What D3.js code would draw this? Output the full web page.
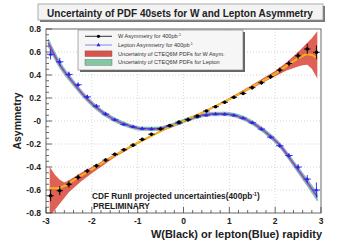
<!DOCTYPE html>
<html>
<head>
<meta charset="utf-8">
<script src="https://cdn.jsdelivr.net/npm/d3@7"></script>
<style>
  body { margin: 0; background: #fff; }
  text { font-family: "Liberation Sans", Arial, sans-serif; }
</style>
</head>
<body>
<div id="chart"></div>
<script>
// pseudo-data bins (centres)
var binX = [-2.9, -2.7, -2.5, -2.3, -2.1, -1.9, -1.7, -1.5, -1.3, -1.1, -0.9, -0.7, -0.5, -0.3, -0.1,
             0.1, 0.3, 0.5, 0.7, 0.9, 1.1, 1.3, 1.5, 1.7, 1.9, 2.1, 2.3, 2.5, 2.7, 2.9]

var wAsym = [-0.65, -0.606, -0.55, -0.49, -0.435, -0.39, -0.34, -0.29, -0.25, -0.21, -0.16, -0.115, -0.07, -0.04, -0.01,
              0.01, 0.043, 0.087, 0.124, 0.163, 0.206, 0.24, 0.29, 0.333, 0.385, 0.443, 0.50, 0.567, 0.626, 0.597]
var wErr = [0.05, 0.04, 0.03, 0.025, 0.02, 0.018, 0.016, 0.014, 0.013, 0.012, 0.011, 0.01, 0.01, 0.01, 0.01,
            0.01, 0.01, 0.01, 0.011, 0.012, 0.013, 0.014, 0.016, 0.018, 0.02, 0.022, 0.025, 0.03, 0.045, 0.06]

var lepAsym = [0.58, 0.515, 0.405, 0.315, 0.21, 0.13, 0.06, 0.01, -0.03, -0.05, -0.065, -0.07, -0.065, -0.045, -0.02,
               0.015, 0.035, 0.05, 0.06, 0.058, 0.05, 0.025, -0.015, -0.07, -0.14, -0.215, -0.30, -0.40, -0.505, -0.60]
var lepErr = [0.045, 0.035, 0.025, 0.02, 0.018, 0.016, 0.014, 0.012, 0.011, 0.01, 0.01, 0.01, 0.01, 0.01, 0.01,
              0.01, 0.01, 0.01, 0.01, 0.01, 0.01, 0.011, 0.012, 0.014, 0.016, 0.018, 0.02, 0.025, 0.035, 0.065]

// CTEQ6M theory: W asymmetry central value and PDF envelope
var wCurveX  = [-2.92, -2.8, -2.7, -2.6, -2.5, -2.25, -2, -1.5, -1, -0.5, 0, 0.5, 1, 1.5, 2, 2.25, 2.5, 2.6, 2.7, 2.8, 2.92]
var wCentral = [-0.585, -0.585, -0.58, -0.565, -0.54, -0.48, -0.42, -0.30, -0.19, -0.09, 0, 0.09, 0.19, 0.30, 0.41, 0.48, 0.545, 0.565, 0.58, 0.575, 0.54]
var wUpper   = [-0.40, -0.47, -0.51, -0.535, -0.515, -0.455, -0.40, -0.29, -0.18, -0.085, 0.005, 0.095, 0.20, 0.315, 0.435, 0.51, 0.60, 0.64, 0.68, 0.72, 0.78]
var wLower   = [-0.83, -0.77, -0.72, -0.67, -0.62, -0.53, -0.455, -0.315, -0.20, -0.095, -0.005, 0.085, 0.18, 0.285, 0.39, 0.44, 0.475, 0.485, 0.49, 0.455, 0.37]

// lepton asymmetry central value and PDF half-width
var lepCurveX  = [-2.95, -2.7, -2.4, -2.1, -1.8, -1.5, -1.2, -0.9, -0.6, -0.3, 0, 0.3, 0.6, 0.9, 1.2, 1.5, 1.8, 2.1, 2.4, 2.7, 2.92]
var lepCentral = [0.68, 0.49, 0.33, 0.19, 0.085, 0.01, -0.04, -0.068, -0.068, -0.045, 0, 0.04, 0.06, 0.062, 0.04, -0.015, -0.10, -0.21, -0.37, -0.535, -0.66]
var lepHalf    = [0.035, 0.03, 0.025, 0.022, 0.02, 0.018, 0.016, 0.015, 0.015, 0.015, 0.015, 0.015, 0.015, 0.015, 0.016, 0.018, 0.02, 0.022, 0.025, 0.03, 0.035]

var yTicks = [-0.8, -0.6, -0.4, -0.2, 0, 0.2, 0.4, 0.6, 0.8]
var yTickLabels = ['-0.8', '-0.6', '-0.4', '-0.2', '-0', '0.2', '0.4', '0.6', '0.8']
var xTicks = [-3, -2, -1, 0, 1, 2, 3]

var legendItems = [
  {label: 'W Asymmetry for 400pb', sup: '-1', kind: 'w'},
  {label: 'Lepton Asymmetry for 400pb', sup: '-1', kind: 'lep'},
  {label: 'Uncertainty of CTEQ6M PDFs for W Asym.', kind: 'wband'},
  {label: 'Uncertainty of CTEQ6M PDFs for Lepton', kind: 'lepband'}
]

var W = 354, H = 243
var red = '#dc5448', green = '#82c8a2', orange = '#f6b21a', purple = '#a638c8', blue = '#2626e6'

var svg = d3.select('#chart').append('svg').attr('width', W).attr('height', H)

var x = d3.scaleLinear().domain([-3, 3]).range([46, 321])
var y = d3.scaleLinear().domain([-0.8, 0.8]).range([213, 29])

// title box
svg.append('rect').attr('x', 40).attr('y', 6).attr('width', 285).attr('height', 16).attr('fill', '#777')
svg.append('rect').attr('x', 38).attr('y', 4).attr('width', 285).attr('height', 16)
  .attr('fill', '#f3f3f3').attr('stroke', '#999').attr('stroke-width', 0.8)
svg.append('text').attr('x', 180).attr('y', 16.5).attr('text-anchor', 'middle')
  .attr('font-size', 10).attr('font-weight', 'bold').attr('fill', '#222')
  .text('Uncertainty of PDF 40sets for W and Lepton Asymmetry')

// grid
var g = svg.append('g')
g.selectAll('.gx').data(xTicks.slice(1, -1)).join('line')
  .attr('x1', d => x(d)).attr('x2', d => x(d)).attr('y1', y(0.8)).attr('y2', y(-0.8))
  .attr('stroke', '#bbb').attr('stroke-width', 0.6).attr('stroke-dasharray', '1,2')
g.selectAll('.gy').data(yTicks.slice(1, -1)).join('line')
  .attr('y1', d => y(d)).attr('y2', d => y(d)).attr('x1', x(-3)).attr('x2', x(3))
  .attr('stroke', '#bbb').attr('stroke-width', 0.6).attr('stroke-dasharray', '1,2')

svg.append('clipPath').attr('id', 'plotclip').append('rect')
  .attr('x', x(-3)).attr('y', y(0.8)).attr('width', x(3) - x(-3)).attr('height', y(-0.8) - y(0.8))

var plot = svg.append('g').attr('clip-path', 'url(#plotclip)')

// W band + central
var wCurve = wCurveX.map((d, i) => ({x: d, c: wCentral[i], hi: wUpper[i], lo: wLower[i]}))
plot.append('path').datum(wCurve)
  .attr('d', d3.area().x(d => x(d.x)).y0(d => y(d.lo)).y1(d => y(d.hi)))
  .attr('fill', red).attr('opacity', 0.92)

// lepton band + central
var lepCurve = lepCurveX.map((d, i) => ({x: d, c: lepCentral[i], h: lepHalf[i]}))
plot.append('path').datum(lepCurve)
  .attr('d', d3.area().x(d => x(d.x)).y0(d => y(d.c - d.h)).y1(d => y(d.c + d.h)).curve(d3.curveMonotoneX))
  .attr('fill', green).attr('stroke', '#5fb0a8').attr('stroke-width', 0.6)
plot.append('path').datum(lepCurve)
  .attr('d', d3.line().x(d => x(d.x)).y(d => y(d.c + d.h * 0.4)).curve(d3.curveMonotoneX))
  .attr('fill', 'none').attr('stroke', '#55c0d8').attr('stroke-width', 0.8)
plot.append('path').datum(lepCurve)
  .attr('d', d3.line().x(d => x(d.x)).y(d => y(d.c)).curve(d3.curveMonotoneX))
  .attr('fill', 'none').attr('stroke', purple).attr('stroke-width', 1.6)

plot.append('path').datum(wCurve)
  .attr('d', d3.line().x(d => x(d.x)).y(d => y(d.c)).curve(d3.curveMonotoneX))
  .attr('fill', 'none').attr('stroke', orange).attr('stroke-width', 2)

// pseudo-data points
var wPts = binX.map((d, i) => ({x: d, v: wAsym[i], e: wErr[i]}))
var lepPts = binX.map((d, i) => ({x: d, v: lepAsym[i], e: lepErr[i]}))

function errorBars(sel, pts, col, hw) {
  var p = sel.append('g')
  p.selectAll('.h').data(pts).join('line')
    .attr('x1', d => x(d.x - hw)).attr('x2', d => x(d.x + hw)).attr('y1', d => y(d.v)).attr('y2', d => y(d.v))
    .attr('stroke', col).attr('stroke-width', 0.9)
  p.selectAll('.v').data(pts).join('line')
    .attr('x1', d => x(d.x)).attr('x2', d => x(d.x)).attr('y1', d => y(d.v - d.e)).attr('y2', d => y(d.v + d.e))
    .attr('stroke', col).attr('stroke-width', 0.9)
  return p
}

errorBars(plot, lepPts, blue, 0.08)
  .selectAll('.m').data(lepPts).join('path')
  .attr('d', d3.symbol(d3.symbolTriangle, 7))
  .attr('transform', d => 'translate(' + x(d.x) + ',' + y(d.v) + ')')
  .attr('fill', blue)

errorBars(plot, wPts, '#000', 0.07)
  .selectAll('.m').data(wPts).join('circle')
  .attr('cx', d => x(d.x)).attr('cy', d => y(d.v)).attr('r', 1.8).attr('fill', '#000')

// frame
svg.append('rect').attr('x', x(-3)).attr('y', y(0.8)).attr('width', x(3) - x(-3)).attr('height', y(-0.8) - y(0.8))
  .attr('fill', 'none').attr('stroke', '#444').attr('stroke-width', 0.8)

// ticks (inside, ROOT style)
var yMinor = d3.range(-0.8, 0.8001, 0.05)
svg.selectAll('.ymin').data(yMinor).join('line')
  .attr('x1', x(-3)).attr('x2', d => x(-3) + (Math.abs(Math.round(d * 100) % 20) < 1 ? 6 : 3))
  .attr('y1', d => y(d)).attr('y2', d => y(d)).attr('stroke', '#444').attr('stroke-width', 0.8)
var xMinor = d3.range(-3, 3.001, 0.2)
svg.selectAll('.xmin').data(xMinor).join('line')
  .attr('x1', d => x(d)).attr('x2', d => x(d))
  .attr('y1', y(-0.8)).attr('y2', d => y(-0.8) - (Math.abs(d - Math.round(d)) < 0.01 ? 6 : 3))
  .attr('stroke', '#444').attr('stroke-width', 0.8)

svg.selectAll('.yl').data(yTicks).join('text')
  .attr('x', 41).attr('y', d => y(d) + 3).attr('text-anchor', 'end')
  .attr('font-size', 8.5).attr('font-weight', 'bold').attr('fill', '#222')
  .text((d, i) => yTickLabels[i])
svg.selectAll('.xl').data(xTicks).join('text')
  .attr('x', d => x(d)).attr('y', 224).attr('text-anchor', 'middle')
  .attr('font-size', 8.5).attr('font-weight', 'bold').attr('fill', '#222')
  .text(d => d)

svg.append('text').attr('transform', 'translate(21,121) rotate(-90)').attr('text-anchor', 'middle')
  .attr('font-size', 10.5).attr('font-weight', 'bold').attr('fill', '#222').text('Asymmetry')
svg.append('text').attr('x', 322).attr('y', 238).attr('text-anchor', 'end')
  .attr('font-size', 11).attr('font-weight', 'bold').attr('fill', '#222')
  .text('W(Black) or lepton(Blue) rapidity')

// annotation
var note = svg.append('text').attr('x', 92).attr('y', 199).attr('font-size', 8.3).attr('font-weight', 'bold').attr('fill', '#222')
note.append('tspan').text('CDF RunII projected uncertainties(400pb')
note.append('tspan').attr('font-size', 5).attr('dy', -3.5).text('-1')
note.append('tspan').attr('dy', 3.5).text(')')
svg.append('text').attr('x', 93).attr('y', 209).attr('font-size', 8.3).attr('font-weight', 'bold').attr('fill', '#222')
  .text('PRELIMINARY')

// legend
svg.append('rect').attr('x', 80).attr('y', 32).attr('width', 165).attr('height', 40).attr('fill', '#666')
svg.append('rect').attr('x', 78).attr('y', 30).attr('width', 165).attr('height', 40)
  .attr('fill', '#f6f6f6').attr('stroke', '#777').attr('stroke-width', 0.6)

var lg = svg.selectAll('.lg').data(legendItems).join('g')
  .attr('transform', (d, i) => 'translate(0,' + (36.3 + i * 8.7) + ')')
lg.filter(d => d.kind == 'w' || d.kind == 'lep').append('line')
  .attr('x1', 85).attr('x2', 112).attr('stroke', d => d.kind == 'w' ? '#000' : '#6a6ae8').attr('stroke-width', 0.8)
lg.filter(d => d.kind == 'w').append('circle').attr('cx', 98.5).attr('r', 1.6).attr('fill', '#000')
lg.filter(d => d.kind == 'lep').append('path').attr('d', d3.symbol(d3.symbolTriangle, 7))
  .attr('transform', 'translate(98.5,0)').attr('fill', blue)
lg.filter(d => d.kind == 'wband' || d.kind == 'lepband').append('rect')
  .attr('x', 85).attr('y', -2.8).attr('width', 27).attr('height', 5.6)
  .attr('fill', d => d.kind == 'wband' ? red : green).attr('stroke', '#555').attr('stroke-width', 0.4)
var lt = lg.append('text').attr('x', 118).attr('y', 2).attr('font-size', 5.6).attr('fill', '#333')
lt.append('tspan').text(d => d.label)
lt.filter(d => d.sup).append('tspan').attr('font-size', 3.6).attr('dy', -2.5).text(d => d.sup)
</script>
</body>
</html>
